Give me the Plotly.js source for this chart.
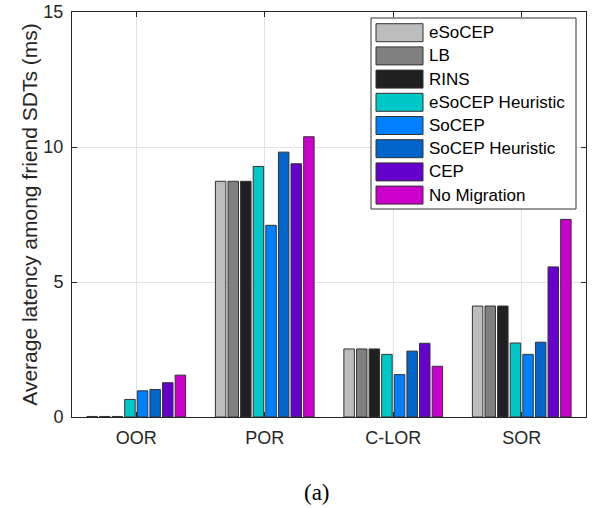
<!DOCTYPE html>
<html>
<head>
<meta charset="utf-8">
<script src="https://cdn.plot.ly/plotly-3.0.1.min.js"></script>
<style>html,body{margin:0;padding:0;background:#fff;}#chart{width:595px;height:508px;}</style>
</head>
<body>
<div id="chart"></div>
<script>
const categories = ["OOR", "POR", "C-LOR", "SOR"];
const seriesNames = ["eSoCEP", "LB", "RINS", "eSoCEP Heuristic", "SoCEP", "SoCEP Heuristic", "CEP", "No Migration"];
const seriesColors = ["#bdbdbd", "#808080", "#202020", "#00c8c8", "#0080ff", "#0066cc", "#6600cc", "#cc00cc"];
const eSoCEP          = [0.02, 8.73, 2.52, 4.11];
const LB              = [0.02, 8.73, 2.52, 4.11];
const RINS            = [0.02, 8.73, 2.52, 4.11];
const eSoCEPHeuristic = [0.65, 9.28, 2.32, 2.74];
const SoCEP           = [0.97, 7.10, 1.57, 2.32];
const SoCEPHeuristic  = [1.02, 9.81, 2.44, 2.77];
const CEP             = [1.27, 9.38, 2.73, 5.56];
const NoMigration     = [1.55, 10.38, 1.88, 7.32];
const seriesValues = [eSoCEP, LB, RINS, eSoCEPHeuristic, SoCEP, SoCEPHeuristic, CEP, NoMigration];
const yTicks = [0, 5, 10, 15];

const data = seriesNames.map((n, i) => ({
  type: "bar",
  name: n,
  x: categories,
  y: seriesValues[i],
  marker: {color: seriesColors[i], line: {color: "#333333", width: 1}},
  showlegend: false,
  hoverinfo: "x+y+name"
}));

// custom legend (box, swatches and labels)
const L = 72, R = 586, T = 12, B = 417;
const px = v => (v - L) / (R - L);
const py = v => (B - v) / (B - T);
const shapes = [{
  type: "rect", xref: "paper", yref: "paper",
  x0: px(371), x1: px(576), y0: py(209), y1: py(18),
  fillcolor: "#ffffff", line: {color: "#333333", width: 1}, layer: "above"
}];
const annotations = [];
seriesNames.forEach((n, i) => {
  const cy = 32.7 + i * 23.2;
  shapes.push({
    type: "rect", xref: "paper", yref: "paper",
    x0: px(376), x1: px(423), y0: py(cy + 9), y1: py(cy - 9),
    fillcolor: seriesColors[i], line: {color: "#333333", width: 1}, layer: "above"
  });
  annotations.push({
    xref: "paper", yref: "paper", x: px(427), y: py(cy),
    xanchor: "left", yanchor: "middle", showarrow: false,
    text: n, font: {family: "Liberation Sans, Arial, sans-serif", size: 17, color: "#000"}
  });
});
annotations.push({
  xref: "paper", yref: "paper", x: px(317), y: py(492),
  xanchor: "center", yanchor: "middle", showarrow: false,
  text: "(a)", font: {family: "Liberation Serif, Times New Roman, serif", size: 23, color: "#000"}
});

const layout = {
  width: 595, height: 508,
  margin: {l: 72, r: 9, t: 12, b: 91},
  paper_bgcolor: "#ffffff", plot_bgcolor: "#ffffff",
  font: {family: "Liberation Sans, Arial, sans-serif", color: "#262626"},
  barmode: "group", bargap: 0.215, bargroupgap: 0.17,
  xaxis: {
    type: "category", range: [-0.5, 3.5],
    showgrid: true, gridcolor: "#e3e3e3", gridwidth: 1,
    showline: true, linecolor: "#262626", linewidth: 1, mirror: "ticks",
    ticks: "inside", ticklen: 5, tickcolor: "#262626",
    tickfont: {size: 18, color: "#262626"}, ticklabelstandoff: 4,
    zeroline: false, fixedrange: true
  },
  yaxis: {
    range: [0, 15], tickvals: yTicks, ticktext: yTicks.map(String),
    showgrid: true, gridcolor: "#e3e3e3", gridwidth: 1,
    showline: true, linecolor: "#262626", linewidth: 1, mirror: "ticks",
    ticks: "inside", ticklen: 5, tickcolor: "#262626",
    tickfont: {size: 18, color: "#262626"}, ticklabelstandoff: 4,
    zeroline: false, fixedrange: true,
    title: {text: "Average latency among friend SDTs (ms)", font: {size: 21, color: "#262626"}, standoff: 0}
  },
  shapes: shapes,
  annotations: annotations
};

Plotly.newPlot("chart", data, layout, {displayModeBar: false, staticPlot: true});
</script>
</body>
</html>
